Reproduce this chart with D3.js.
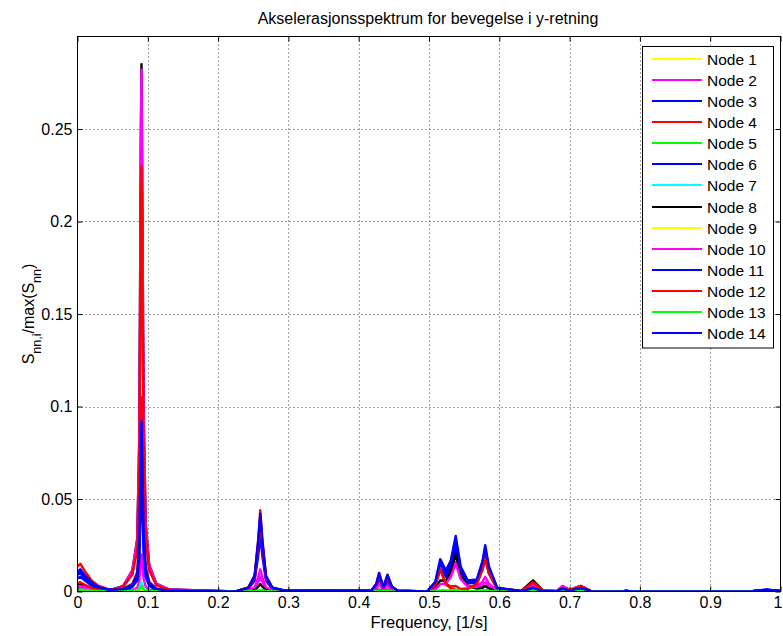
<!DOCTYPE html>
<html>
<head>
<meta charset="utf-8">
<script src="https://cdn.jsdelivr.net/npm/d3@7"></script>
<style>
  body { margin: 0; background: #fff; }
  text { font-family: "Liberation Sans", Arial, sans-serif; fill: #000; }
</style>
</head>
<body>
<svg width="783" height="636"></svg>
<script>
// frequency grid shared by every node, [1/s]
const freq = [
  0, 0.004, 0.01, 0.02, 0.03, 0.045, 0.065,
  0.078, 0.085, 0.088, 0.09, 0.091, 0.092, 0.094, 0.097, 0.102, 0.112, 0.13,
  0.225,
  0.243, 0.252, 0.257, 0.26, 0.263, 0.268, 0.277, 0.295,
  0.418, 0.425, 0.429, 0.435, 0.441, 0.447, 0.455,
  0.497,
  0.509, 0.516, 0.524, 0.531, 0.538, 0.545, 0.555, 0.568, 0.576, 0.58, 0.585, 0.597,
  0.632, 0.648, 0.662,
  0.682, 0.69, 0.7, 0.716, 0.73,
  0.775, 0.78, 0.79,
  0.96, 0.98, 1.0
];

const node1 = [.0006,.0007,.0005,.0003,.0001,0,0, .0001,.0002,.0006,.0018,.002,.0016,.0007,.0003,.0001,0,0, 0, 0,.0001,.0003,.0005,.0003,.0001,0,0, 0,.0002,.0005,.0001,.0005,.0001,0, 0, .0001,.0004,.0003,.0004,.0007,.0003,.0001,.0002,.0004,.0006,.0003,.0001, 0,.0004,0, 0,.0002,.0001,.0002,0, 0,0,0, 0,.0001,0];
const node2 = [.0018,.002,.0015,.0008,.0004,.0001,.0003, .0008,.002,.006,.017,.02,.016,.007,.0026,.001,.0003,.0001, 0, .0004,.0016,.0051,.008,.0051,.0016,.0004,.0001, .0002,.0016,.004,.001,.004,.0012,.0002, 0, .0012,.004,.0044,.0084,.016,.0072,.0027,.0018,.0033,.005,.0028,.0004, .0003,.003,.0003, .0003,.003,.0009,.003,.0003, 0,.0003,0, .0001,.0005,.0002];
const node3 = [.0072,.008,.006,.0032,.0016,.0006,.0008, .0024,.006,.018,.051,.06,.048,.021,.0078,.003,.0009,.0002, 0, .0015,.006,.0192,.03,.0192,.006,.0015,.0003, .0004,.0028,.007,.0016,.006,.0018,.0003, 0, .0036,.012,.008,.0122,.022,.0099,.0044,.0047,.0117,.018,.0099,.0014, .0002,.002,.0002, .0002,.0015,.0005,.002,.0002, 0,.0003,0, .0001,.0008,.0002];
const node4 = [.0135,.015,.0113,.006,.003,.0011,.0015, .0042,.0105,.0315,.0893,.105,.084,.0368,.0137,.0053,.0016,.0004, 0, .0022,.0088,.0282,.044,.0282,.0088,.0022,.0004, .0005,.004,.010,.0023,.009,.0027,.0005, 0, .0036,.012,.0038,.0017,.001,.0005,.0014,.0041,.013,.020,.011,.0016, .0004,.004,.0004, .0002,.002,.0007,.003,.0003, 0,.0003,0, .0001,.0008,.0002];
const node5 = [.0008,.0009,.0007,.0004,.0002,.0001,.0001, .0002,.0004,.0012,.0034,.004,.0032,.0014,.0005,.0002,.0001,0, 0, .0001,.0002,.0005,.0008,.0005,.0002,.0001,0, 0,.0002,.0006,.0001,.0006,.0002,0, 0, .0002,.0006,.0004,.0005,.0009,.0004,.0002,.0002,.0005,.0008,.0004,.0001, 0,.0005,0, 0,.0003,.0001,.0003,0, 0,0,0, 0,.0002,.0001];
const node6 = [.009,.010,.0075,.004,.002,.0007,.0027, .0096,.024,.072,.204,.24,.192,.084,.0312,.012,.0036,.001, 0, .0018,.0072,.023,.036,.023,.0072,.0018,.0004, .0004,.0032,.008,.0019,.008,.0024,.0004, 0, .0045,.015,.0095,.014,.025,.0113,.0051,.0057,.0143,.022,.0121,.0018, .0002,.002,.0002, .0002,.0015,.0005,.002,.0002, 0,.0003,0, .0001,.001,.0003];
const node7 = [.0007,.0008,.0006,.0003,.0002,.0001,.0001, .0002,.0005,.0015,.0043,.005,.004,.0018,.0007,.0003,.0001,0, 0, 0,.0002,.0004,.0006,.0004,.0002,0,0, 0,.0001,.0004,.0001,.0004,.0001,0, 0, .0001,.0005,.0003,.0004,.0008,.0004,.0002,.0002,.0005,.0007,.0004,.0001, 0,.0004,0, 0,.0002,.0001,.0002,0, 0,0,0, 0,.0001,0];
const node8 = [.0036,.004,.003,.0016,.0008,.0003,.003, .0114,.0285,.0855,.2423,.285,.228,.0998,.0371,.0143,.0043,.0011, 0, .0002,.0008,.0026,.004,.0026,.0008,.0002,0, .0001,.0004,.001,.0002,.001,.0003,.0001, 0, .0018,.006,.0058,.0106,.020,.009,.0032,.0016,.002,.003,.0017,.0002, .0006,.006,.0006, .0001,.001,.0004,.002,.0002, 0,.0002,0, 0,.0003,.0001];
const node9 = [.0005,.0006,.0004,.0002,.0001,0,0, .0001,.0002,.0005,.0014,.0016,.0013,.0006,.0002,.0001,0,0, 0, 0,.0001,.0002,.0004,.0002,.0001,0,0, 0,.0001,.0003,.0001,.0003,.0001,0, 0, .0001,.0003,.0002,.0003,.0005,.0002,.0001,.0001,.0003,.0005,.0003,0, 0,.0003,0, 0,.0002,0,.0002,0, 0,0,0, 0,.0001,0];
const node10 = [.0027,.003,.0023,.0012,.0006,.0002,.0029, .0113,.0282,.0846,.2397,.282,.2256,.0987,.0367,.0141,.0042,.0011, 0, .0006,.0024,.0077,.012,.0077,.0024,.0006,.0001, .0002,.0016,.004,.0008,.003,.0009,.0002, 0, .0012,.004,.0042,.0079,.015,.0068,.0028,.0024,.0052,.008,.0044,.0006, .0004,.004,.0004, .0003,.003,.0009,.003,.0003, 0,.0003,0, .0001,.0005,.0002];
const node11 = [.0099,.011,.0083,.0044,.0022,.0008,.0011, .003,.0075,.0225,.0638,.075,.06,.0263,.0098,.0038,.0011,.0003, 0, .002,.008,.0256,.04,.0256,.008,.002,.0004, .0005,.0036,.009,.002,.008,.0024,.0004, 0, .0048,.016,.0104,.0156,.028,.0126,.0056,.006,.015,.023,.0127,.0018, .0002,.002,.0002, .0002,.0015,.0005,.002,.0002, 0,.0003,0, .0001,.001,.0003];
const node12 = [.0045,.005,.0038,.002,.001,.0004,.0025, .0092,.023,.069,.1955,.23,.184,.0805,.0299,.0115,.0035,.0009, 0, .0019,.0076,.0243,.038,.0243,.0076,.0019,.0004, .0005,.0036,.009,.002,.008,.0024,.0004, 0, .0036,.012,.0042,.0027,.003,.0014,.0016,.0038,.0117,.018,.0099,.0014, .0005,.005,.0005, .0002,.002,.0007,.003,.0003, 0,.0003,0, .0001,.0007,.0002];
const node13 = [.0009,.001,.0008,.0004,.0002,.0001,.0001, .0001,.0003,.0009,.0026,.003,.0024,.0011,.0004,.0002,.0001,0, 0, .0001,.0003,.0006,.0009,.0006,.0003,.0001,0, 0,.0002,.0006,.0001,.0006,.0002,0, 0, .0002,.0006,.0004,.0006,.001,.0005,.0002,.0002,.0006,.0009,.0005,.0001, 0,.0004,0, 0,.0002,.0001,.0002,0, 0,0,0, 0,.0002,.0001];
const node14 = [.0108,.012,.009,.0048,.0024,.0008,.0013, .0037,.0092,.0276,.0782,.092,.0736,.0322,.012,.0046,.0014,.0004, 0, .0021,.0084,.0269,.042,.0269,.0084,.0021,.0004, .0005,.004,.010,.0023,.009,.0027,.0005, 0, .0053,.0175,.0113,.0168,.030,.0135,.006,.0065,.0163,.025,.0138,.002, .0002,.002,.0002, .0002,.0015,.0005,.002,.0002, 0,.0003,0, .0001,.001,.0003];

const nodeNames = ["Node 1", "Node 2", "Node 3", "Node 4", "Node 5", "Node 6", "Node 7",
  "Node 8", "Node 9", "Node 10", "Node 11", "Node 12", "Node 13", "Node 14"];
const nodeColors = ["#ffff00", "#ff00ff", "#0000ff", "#ff0000", "#00ff00", "#0000ff", "#00ffff",
  "#000000", "#ffff00", "#ff00ff", "#0000ff", "#ff0000", "#00ff00", "#0000ff"];
const nodeValues = [node1, node2, node3, node4, node5, node6, node7,
  node8, node9, node10, node11, node12, node13, node14];

const xTicks = [0, 0.1, 0.2, 0.3, 0.4, 0.5, 0.6, 0.7, 0.8, 0.9, 1];
const xTickLabels = ["0", "0.1", "0.2", "0.3", "0.4", "0.5", "0.6", "0.7", "0.8", "0.9", "1"];
const yTicks = [0, 0.05, 0.1, 0.15, 0.2, 0.25];
const yTickLabels = ["0", "0.05", "0.1", "0.15", "0.2", "0.25"];

const chartTitle = "Akselerasjonsspektrum for bevegelse i y-retning";
const xTitle = "Frequency, [1/s]";

const plotLeft = 77.5, plotRight = 780.5, plotTop = 36.5, plotBottom = 591.5;

let svg = d3.select("svg");
let x = d3.scaleLinear().domain([0, 1]).range([plotLeft, plotRight]);
let y = d3.scaleLinear().domain([0, 0.3]).range([plotBottom, plotTop]);

// dotted grid
let grid = svg.append("g");
grid.selectAll("line.gx").data(xTicks.slice(1, -1)).enter().append("line")
  .attr("x1", d => Math.round(x(d)) + 0.5).attr("x2", d => Math.round(x(d)) + 0.5)
  .attr("y1", plotTop).attr("y2", plotBottom);
grid.selectAll("line.gy").data(yTicks.slice(1)).enter().append("line")
  .attr("x1", plotLeft).attr("x2", plotRight)
  .attr("y1", d => Math.round(y(d)) + 0.5).attr("y2", d => Math.round(y(d)) + 0.5);
grid.selectAll("line")
  .style("stroke", "#444")
  .style("stroke-width", 1)
  .style("stroke-dasharray", "1,3");

// clip for the spectra
svg.append("clipPath").attr("id", "plotclip")
  .append("rect").attr("x", plotLeft).attr("y", plotTop - 2)
  .attr("width", plotRight - plotLeft).attr("height", plotBottom - plotTop + 2);

let line = d3.line()
  .x((d, i) => x(freq[i]))
  .y(d => y(d));

svg.append("g").attr("clip-path", "url(#plotclip)")
  .selectAll("path").data(nodeValues).enter().append("path")
  .attr("d", d => line(d))
  .style("fill", "none")
  .style("stroke", (d, i) => nodeColors[i])
  .style("stroke-width", 2.4)
  .style("stroke-linejoin", "round");

// axes, ticks inward on all four sides like the original
let xAxis = d3.axisBottom(x).tickValues(xTicks).tickSize(-5).tickPadding(5)
  .tickFormat((d, i) => xTickLabels[i]);
let yAxis = d3.axisLeft(y).tickValues(yTicks).tickSize(-5).tickPadding(5)
  .tickFormat((d, i) => yTickLabels[i]);
let xAxisTop = d3.axisTop(x).tickValues(xTicks).tickSize(-5).tickFormat("");
let yAxisRight = d3.axisRight(y).tickValues(yTicks).tickSize(-5).tickFormat("");

let gx = svg.append("g").attr("transform", `translate(0, ${plotBottom})`).call(xAxis);
svg.append("g").attr("transform", `translate(${plotLeft}, 0)`).call(yAxis);
svg.append("g").attr("transform", `translate(0, ${plotTop})`).call(xAxisTop);
svg.append("g").attr("transform", `translate(${plotRight}, 0)`).call(yAxisRight);

svg.selectAll(".domain").remove();
svg.selectAll(".tick line").style("stroke", "#000");
svg.selectAll(".tick text").style("font-size", "16px").style("font-family", "Liberation Sans, Arial, sans-serif");
gx.selectAll(".tick text").filter((d, i) => i === xTicks.length - 1).attr("dx", -3);

svg.append("rect")
  .attr("x", plotLeft).attr("y", plotTop)
  .attr("width", plotRight - plotLeft).attr("height", plotBottom - plotTop)
  .style("fill", "none").style("stroke", "#000").style("stroke-width", 1);

// titles
svg.append("text").attr("x", 428).attr("y", 24)
  .attr("text-anchor", "middle").style("font-size", "16px")
  .text(chartTitle);
svg.append("text").attr("x", 429).attr("y", 628)
  .attr("text-anchor", "middle").style("font-size", "16.5px")
  .text(xTitle);

let yLab = svg.append("text")
  .attr("transform", `translate(34, ${(plotTop + plotBottom) / 2}) rotate(-90)`)
  .attr("text-anchor", "middle").style("font-size", "16px");
yLab.append("tspan").text("S");
yLab.append("tspan").attr("baseline-shift", "sub").style("font-size", "12.5px").text("nn,i");
yLab.append("tspan").text("/max(S");
yLab.append("tspan").attr("baseline-shift", "sub").style("font-size", "12.5px").text("nn");
yLab.append("tspan").text(")");

// legend
const lgX = 642.5, lgY = 46.5, lgW = 131, lgH = 301.5, rowH = 21.15;
let legend = svg.append("g");
legend.append("rect")
  .attr("x", lgX).attr("y", lgY).attr("width", lgW).attr("height", lgH)
  .style("fill", "#fff").style("stroke", "#000").style("stroke-width", 1);
let rows = legend.selectAll("g.row").data(nodeNames).enter().append("g")
  .attr("transform", (d, i) => `translate(0, ${Math.round(lgY + 12 + i * rowH)})`);
rows.append("line")
  .attr("x1", 652).attr("x2", 702).attr("y1", 0).attr("y2", 0)
  .style("stroke", (d, i) => nodeColors[i]).style("stroke-width", 2);
rows.append("text")
  .attr("x", 707).attr("y", 6)
  .style("font-size", "15.5px")
  .text(d => d);
</script>
</body>
</html>
